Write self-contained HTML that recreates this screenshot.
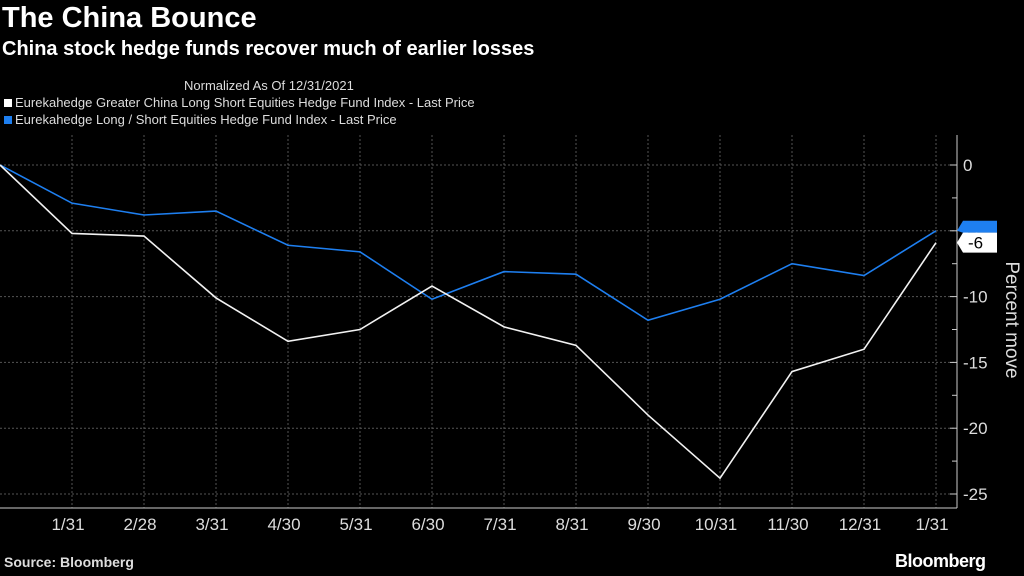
<!DOCTYPE html>
<html><head><meta charset="utf-8"><style>
body{margin:0;background:#000;width:1024px;height:576px;overflow:hidden;font-family:"Liberation Sans",sans-serif;color:#fff}
.t{position:absolute;white-space:nowrap}
</style></head><body>
<div class="t" style="left:2px;top:2px;font-size:29px;font-weight:bold">The China Bounce</div>
<div class="t" style="left:2px;top:38px;font-size:20px;font-weight:bold">China stock hedge funds recover much of earlier losses</div>
<div class="t" style="left:184px;top:78px;font-size:13px;color:#ddd">Normalized As Of 12/31/2021</div>
<div class="t" style="left:4px;top:95px;font-size:13px;color:#ddd"><span style="display:inline-block;width:8px;height:8px;background:#fff;margin-right:3px"></span>Eurekahedge Greater China Long Short Equities Hedge Fund Index - Last Price</div>
<div class="t" style="left:4px;top:112px;font-size:13px;color:#ddd"><span style="display:inline-block;width:8px;height:8px;background:#1e7ff0;margin-right:3px"></span>Eurekahedge Long / Short Equities Hedge Fund Index - Last Price</div>
<svg id="c" width="1024" height="576" style="position:absolute;left:0;top:0"></svg>
<div class="t" style="left:4px;top:554px;font-size:14px;font-weight:bold;color:#ddd">Source: Bloomberg</div>
<div class="t" style="left:895px;top:551px;font-size:18px;font-weight:bold;letter-spacing:-0.5px">Bloomberg</div>
<script>
const labels=["","1/31","2/28","3/31","4/30","5/31","6/30","7/31","8/31","9/30","10/31","11/30","12/31","1/31"];
const china=[0,-5.2,-5.4,-10.1,-13.4,-12.5,-9.2,-12.3,-13.7,-19,-23.8,-15.7,-14,-5.9];
const global=[0,-2.9,-3.8,-3.5,-6.1,-6.6,-10.2,-8.1,-8.3,-11.8,-10.2,-7.5,-8.4,-5];
const yTicks=[0,-5,-10,-15,-20,-25];
const svg=document.getElementById('c');const NS='http://www.w3.org/2000/svg';
const x=i=>i*72, y=v=>165-v*13.16;
function mk(t,a,p){const e=document.createElementNS(NS,t);for(const k in a)e.setAttribute(k,a[k]);(p||svg).appendChild(e);return e;}
yTicks.forEach((v,k)=>{
 const g=mk('line',{x1:0,x2:957,y1:y(v),y2:y(v),stroke:'#555','stroke-dasharray':'2,2'});
 
 
 const t=mk('text',{x:963,y:y(v)+6,fill:'#ddd','font-size':17,'font-family':'Liberation Sans'});t.textContent=v;
 
 
 mk('line',{x1:950,x2:957,y1:y(v),y2:y(v),stroke:'#ccc'});
 if(k<yTicks.length-1) mk('line',{x1:952,x2:957,y1:y(v-2.5),y2:y(v-2.5),stroke:'#ccc'});
});
labels.forEach((l,i)=>{
 if(i>0){const g=mk('line',{x1:x(i),x2:x(i),y1:135,y2:508,stroke:'#555','stroke-dasharray':'2,2'});
 
 }
 const t=mk('text',{x:x(i)-4,y:530,fill:'#ddd','font-size':17,'text-anchor':'middle','font-family':'Liberation Sans'});t.textContent=l;
 
 
});
mk('line',{x1:0,x2:957,y1:508,y2:508,stroke:'#ccc'});
mk('line',{x1:957,x2:957,y1:135,y2:508,stroke:'#ccc'});
function line(d,c,n){const p=mk('polyline',{points:d.map((v,i)=>x(i)+','+y(v)).join(' '),fill:'none',stroke:c,'stroke-width':1.6});
 
 }
line(global,'#1e7ff0','global-line');line(china,'#f2f2f2','china-line');
const gl=y(global[global.length-1]), cl=y(china[china.length-1]);
mk('path',{d:`M957 ${gl} L963 ${gl-10} L997 ${gl-10} L997 ${gl+2} L963 ${gl+2} Z`,fill:'#1e7ff0'});
mk('path',{d:`M957 ${cl} L963 ${cl-10} L997 ${cl-10} L997 ${cl+10} L963 ${cl+10} Z`,fill:'#fff'});
const ct=mk('text',{x:968,y:cl+6,fill:'#000','font-size':17,'font-family':'Liberation Sans'});ct.textContent=Math.round(china[china.length-1]);


const yt=mk('text',{x:1006,y:320,fill:'#ddd','font-size':19,'text-anchor':'middle','font-family':'Liberation Sans',transform:'rotate(90 1006 320)'});yt.textContent='Percent move';


</script>
</body></html>
